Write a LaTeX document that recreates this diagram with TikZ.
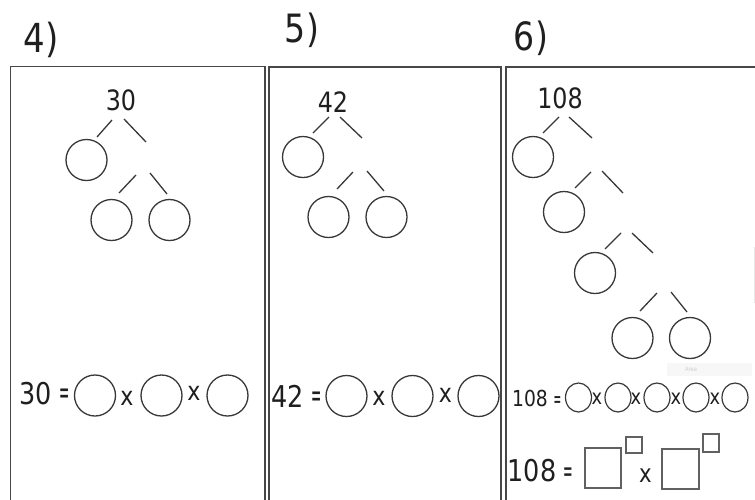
\documentclass[tikz,border=0pt]{standalone}
\usepackage{fontspec}
\setmainfont{DejaVu Sans}[FakeStretch=0.85]
\usetikzlibrary{shapes.geometric}
\newcommand\myfs[1]{\fontsize{#1}{#1}\selectfont}
\newcommand\myeq[1]{\scalebox{0.45}[1]{\myfs{#1}=}}
\tikzset{
  frame/.style={draw=black!72, line width=1.6pt},
  ring/.style={draw=black!78, line width=1.3pt, circle, minimum size=41pt, inner sep=0pt},
  sring/.style={draw=black!78, line width=1.2pt, ellipse, minimum width=26pt, minimum height=29pt, inner sep=0pt},
  twig/.style={draw=black!78, line width=1.3pt},
  sq/.style={draw=black!62, line width=1.3pt},
  txt/.style={inner sep=0pt, anchor=base, text=black!88},
}
\begin{document}
\begin{tikzpicture}[x=1pt,y=-1pt]
\useasboundingbox (0,0) rectangle (755,499);
\clip (0,0) rectangle (755,499);
\fill[white] (0,0) rectangle (755,499);

% panel frames
\draw[frame] (10.5,505) -- (10.5,66.5) -- (265,66.5) -- (265,505);
\draw[frame] (269,505) -- (269,67) -- (501,67) -- (501,505);
\draw[frame] (506,505) -- (506,67) -- (760,67);
\draw[gray!18, line width=1pt] (754,247) -- (754,303);

% labels
\node[txt] (l4) at (41,52) {\myfs{40}4)};
\node[txt] (l5) at (302,42) {\myfs{39}5)};
\node[txt] (l6) at (531,50) {\myfs{39}6)};

% ---------- panel 4 ----------
\node[txt] (n30) at (121,110) {\myfs{28}30};
\draw[twig] (112,120) -- (97,137);
\draw[twig] (124,119) -- (146,142);
\node[ring] (a1) at (86.5,160) {};
\draw[twig] (136,175) -- (119,193);
\draw[twig] (150,173) -- (167,194);
\node[ring] (a2) at (111.5,220) {};
\node[ring] (a3) at (169.5,220) {};

\node[txt] (e30) at (36,404) {\myfs{30}30};
\node[txt] (q30) at (65,403) {\myeq{32}};
\node[ring] (b1) at (95,395.5) {};
\node[txt] (x41) at (127,405) {\myfs{26}x};
\node[ring] (b2) at (161.5,395.5) {};
\node[txt] (x42) at (194,400) {\myfs{26}x};
\node[ring] (b3) at (227.5,395.5) {};

% ---------- panel 5 ----------
\node[txt] (n42) at (333,112) {\myfs{28}42};
\draw[twig] (329,117) -- (313,133);
\draw[twig] (340,117) -- (362,138);
\node[ring] (c1) at (303,157) {};
\draw[twig] (353,172) -- (337,189);
\draw[twig] (367,171) -- (384,191);
\node[ring] (c2) at (328.5,217) {};
\node[ring] (c3) at (386.5,217) {};

\node[txt] (e42) at (287.5,407) {\myfs{30}42};
\node[txt] (q42) at (317,406) {\myeq{32}};
\node[ring] (d1) at (346.5,396) {};
\node[txt] (x51) at (379,405) {\myfs{26}x};
\node[ring] (d2) at (412.5,396) {};
\node[txt] (x52) at (445.5,402) {\myfs{26}x};
\node[ring] (d3) at (478.5,396) {};

% ---------- panel 6 ----------
\node[txt] (n108) at (560,108) {\myfs{28}108};
\draw[twig] (559,117) -- (543,133);
\draw[twig] (569,117) -- (592,138);
\node[ring] (f1) at (533,157) {};
\draw[twig] (591,172) -- (575,188);
\draw[twig] (602,171) -- (623,193);
\node[ring] (f2) at (564,212) {};
\draw[twig] (621,233) -- (605,249);
\draw[twig] (632,233) -- (653,253);
\node[ring] (f3) at (595,273) {};
\draw[twig] (657,293) -- (640,311);
\draw[twig] (671,292) -- (687,312);
\node[ring] (f4) at (632.5,338) {};
\node[ring] (f5) at (690,338) {};

\node[fill=gray!6, minimum width=85pt, minimum height=13pt, inner sep=0pt] (area) at (709.5,369.5) {};
\node[inner sep=0pt, text=gray!40] (areat) at (691,369.5) {\myfs{6}Area};

\node[txt] (e108) at (530,406) {\myfs{22}108};
\node[txt] (q108) at (557.5,407) {\myeq{24}};
\node[sring] (g1) at (578.5,397.5) {};
\node[sring] (g2) at (618,397.5) {};
\node[sring] (g3) at (657,397.5) {};
\node[sring] (g4) at (696,397.5) {};
\node[sring] (g5) at (735,397.5) {};
\node[txt] (y1) at (597,404) {\myfs{21}x};
\node[txt] (y2) at (636,404) {\myfs{21}x};
\node[txt] (y3) at (676,404) {\myfs{21}x};
\node[txt] (y4) at (715,404) {\myfs{21}x};

\node[txt] (E108) at (532,481) {\myfs{30}108};
\node[txt] (Q108) at (568,481.5) {\myeq{30}};
\draw[sq] (585,448) rectangle (621,488);
\draw[sq] (626,437) rectangle (642,453);
\node[txt] (z1) at (645.5,482) {\myfs{25}x};
\draw[sq] (662,449) rectangle (699,489);
\draw[sq] (703,434) rectangle (719,452);
\end{tikzpicture}
\end{document}
